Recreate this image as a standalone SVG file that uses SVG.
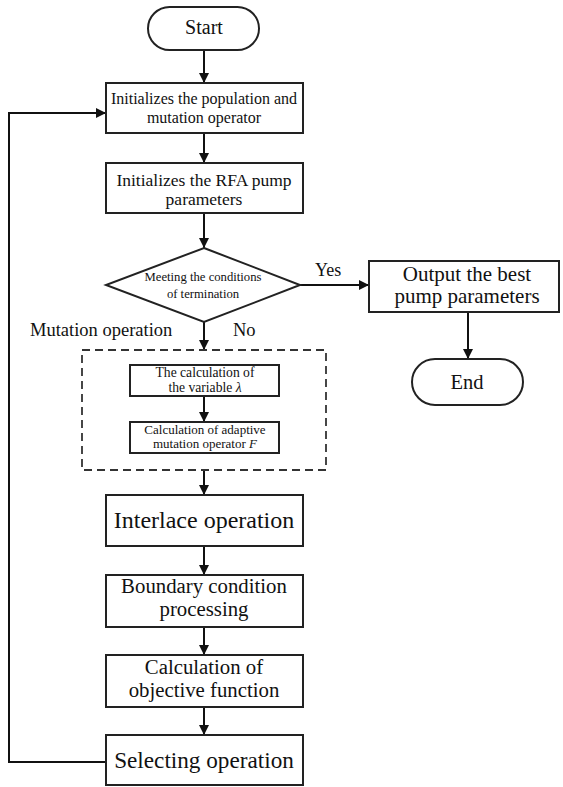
<svg xmlns="http://www.w3.org/2000/svg" width="563" height="787" viewBox="0 0 563 787">
<defs>
<marker id="ah" markerUnits="userSpaceOnUse" markerWidth="10" markerHeight="10" refX="10" refY="5" orient="auto">
<path d="M0,0 L10,5 L0,10 z" fill="#111"/>
</marker>
<style>
.box{fill:#fff;stroke:#222;stroke-width:2}
.dash{fill:none;stroke:#333;stroke-width:1.8;stroke-dasharray:8,5}
.ln{fill:none;stroke:#111;stroke-width:2}
text{font-family:"Liberation Serif","Times New Roman",serif;fill:#111;text-anchor:middle}
.lbl{text-anchor:start}
</style>
</defs>
<rect width="563" height="787" fill="#fff"/>

<g id="connectors">
<line class="ln" x1="204" y1="50" x2="204" y2="83" marker-end="url(#ah)"/>
<line class="ln" x1="204" y1="133" x2="204" y2="163" marker-end="url(#ah)"/>
<line class="ln" x1="204" y1="213" x2="204" y2="248" marker-end="url(#ah)"/>
<line class="ln" x1="300" y1="285" x2="369" y2="285" marker-end="url(#ah)"/>
<line class="ln" x1="468" y1="312" x2="468" y2="359" marker-end="url(#ah)"/>
<line class="ln" x1="204" y1="322" x2="204" y2="350" marker-end="url(#ah)"/>
<line class="ln" x1="204" y1="396" x2="204" y2="422" marker-end="url(#ah)"/>
<line class="ln" x1="204" y1="470" x2="204" y2="495" marker-end="url(#ah)"/>
<line class="ln" x1="204" y1="546" x2="204" y2="575" marker-end="url(#ah)"/>
<line class="ln" x1="204" y1="627" x2="204" y2="655" marker-end="url(#ah)"/>
<line class="ln" x1="204" y1="707" x2="204" y2="735" marker-end="url(#ah)"/>
<polyline class="ln" points="106,762 9,762 9,113 106,113" marker-end="url(#ah)"/>
<text class="lbl" x="315" y="276" font-size="18">Yes</text>
<text class="lbl" x="233" y="336" font-size="18.5">No</text>
</g>

<g id="start">
<rect class="box" x="148" y="7" width="111" height="43" rx="21.5"/>
<text x="204" y="34" font-size="20">Start</text>
</g>

<g id="init-population">
<rect class="box" x="106" y="83" width="197" height="50"/>
<text x="204" y="104" font-size="16">Initializes the population and</text>
<text x="204" y="123" font-size="16">mutation operator</text>
</g>

<g id="init-rfa">
<rect class="box" x="106" y="163" width="197" height="50"/>
<text x="204" y="186" font-size="17.5">Initializes the RFA pump</text>
<text x="204" y="205" font-size="17.5">parameters</text>
</g>

<g id="decision">
<polygon class="box" points="204,248 300,285 204,322 106,285"/>
<text x="203" y="281" font-size="12.7">Meeting the conditions</text>
<text x="203" y="298" font-size="12.7">of termination</text>
</g>

<g id="output">
<rect class="box" x="369" y="261" width="190" height="51"/>
<text x="467" y="281" font-size="21">Output the best</text>
<text x="467" y="303" font-size="21">pump parameters</text>
</g>

<g id="end">
<rect class="box" x="412" y="359" width="111" height="46" rx="23"/>
<text x="467" y="389" font-size="20.5">End</text>
</g>

<g id="mutation-operation">
<rect class="dash" x="82" y="350" width="244" height="120"/>
<text class="lbl" x="30" y="336" font-size="18.5">Mutation operation</text>
</g>

<g id="calc-lambda">
<rect class="box" x="130" y="365" width="149" height="31"/>
<text x="205" y="377" font-size="13.6">The calculation of</text>
<text x="205" y="391.5" font-size="13.6">the variable <tspan font-style="italic">λ</tspan></text>
</g>

<g id="calc-f">
<rect class="box" x="130" y="422" width="149" height="31"/>
<text x="205" y="433.5" font-size="13">Calculation of adaptive</text>
<text x="205" y="448" font-size="13">mutation operator <tspan font-style="italic">F</tspan></text>
</g>

<g id="interlace">
<rect class="box" x="106" y="495" width="197" height="51"/>
<text x="204" y="528" font-size="24">Interlace operation</text>
</g>

<g id="boundary">
<rect class="box" x="106" y="575" width="197" height="52"/>
<text x="204" y="593" font-size="20.8">Boundary condition</text>
<text x="204" y="615.5" font-size="20.8">processing</text>
</g>

<g id="objective">
<rect class="box" x="106" y="655" width="197" height="52"/>
<text x="204" y="674" font-size="20.8">Calculation of</text>
<text x="204" y="696.5" font-size="20.8">objective function</text>
</g>

<g id="selecting">
<rect class="box" x="106" y="735" width="197" height="50"/>
<text x="204" y="768" font-size="23.2">Selecting operation</text>
</g>
</svg>
